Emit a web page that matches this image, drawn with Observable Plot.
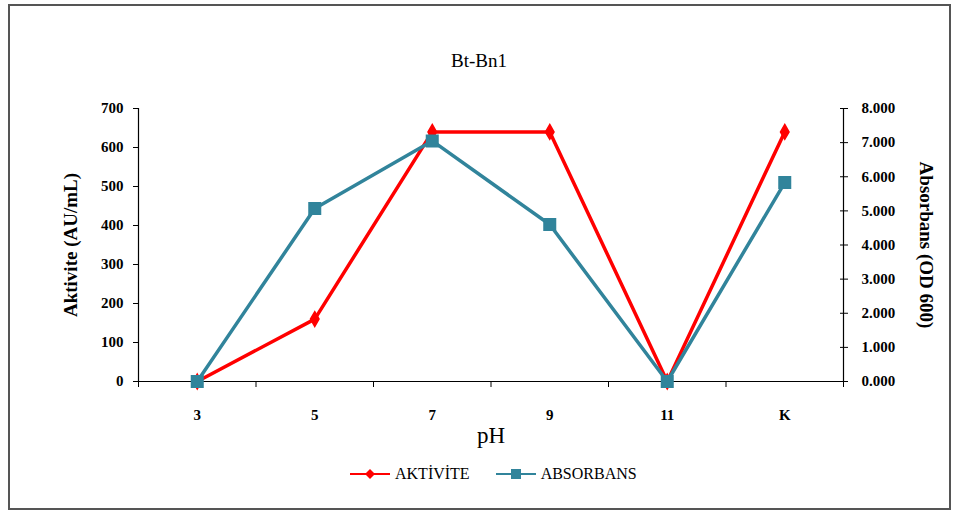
<!DOCTYPE html>
<html><head><meta charset="utf-8">
<script src="https://cdn.jsdelivr.net/npm/d3@7"></script>
<script src="https://cdn.jsdelivr.net/npm/@observablehq/plot@0.6"></script>
<style>
body{margin:0;background:#fff;}
#wrap{position:relative;width:958px;height:511px;color:#000;}
#wrap, #wrap *, #wrap svg text{font-family:'Liberation Serif' !important;}
#frame{position:absolute;left:8px;top:4px;width:943px;height:506px;border:2px solid #555;box-sizing:border-box;pointer-events:none;}
#title{position:absolute;left:0;width:958px;top:50px;text-align:center;font-size:19px;}
#legend{position:absolute;top:465px;left:350px;font-size:16px;display:flex;align-items:center;}
#legend .item{display:flex;align-items:center;margin-right:26px;}
#legend svg{margin-right:5px;}
#chart{position:absolute;left:0;top:0;}
</style></head>
<body>
<div id="wrap">
  <div id="chart"></div>
  <div id="title">Bt-Bn1</div>
  <div id="legend"></div>
  <div id="frame"></div>
</div>
<script>
const categories = ["3", "5", "7", "9", "11", "K"];
const aktivite = [0, 160, 640, 640, 0, 640];
const absorbans = [0, 5.07, 7.05, 4.6, 0, 5.83];
const leftTicks = [0, 100, 200, 300, 400, 500, 600, 700];
const rightTicks = [0, 1, 2, 3, 4, 5, 6, 7, 8];
const seriesNames = ["AKTİVİTE", "ABSORBANS"];
const colors = ["#ff0000", "#31849b"];

const FONT = "Liberation Serif";
const k = 700 / 8; // right axis -> left axis
const idx = categories.map((_, i) => i);
const bounds = d3.range(categories.length + 1).map(i => i - 0.5);

const plot = Plot.plot({
  width: 958,
  height: 511,
  marginLeft: 138,
  marginRight: 115,
  marginTop: 108,
  marginBottom: 130,
  style: {fontFamily: FONT, fontSize: "14px", color: "#000", background: "transparent"},
  x: {type: "linear", domain: [-0.5, categories.length - 0.5], axis: null},
  y: {domain: [0, 700], axis: null},
  marks: [
    Plot.ruleY([0], {stroke: "#000", strokeWidth: 1.2}),
    Plot.ruleX([-0.5], {stroke: "#000", strokeWidth: 1.2}),
    Plot.ruleX([categories.length - 0.5], {stroke: "#000", strokeWidth: 1.2}),
    Plot.axisY({ticks: leftTicks, tickSize: 5, tickPadding: 10, fontFamily: FONT, fontWeight: "bold", fontSize: 15, label: null, tickFormat: d => String(d)}),
    Plot.axisY({anchor: "right", ticks: rightTicks.map(v => v * k), tickSize: 4, tickPadding: 14, fontFamily: FONT, fontWeight: "bold", fontSize: 15, label: null, tickFormat: d => (d / k).toFixed(3)}),
    Plot.axisY({anchor: "right", ticks: rightTicks.map(v => v * k), tickSize: -4, tickFormat: () => "", label: null}),
    Plot.axisX({ticks: bounds, tickSize: 6, tickFormat: () => "", label: null}),
    Plot.axisX({ticks: idx, tickSize: 0, tickPadding: 28, fontFamily: FONT, fontWeight: "bold", fontSize: 15, label: null, tickFormat: i => categories[i]}),
    Plot.line(idx, {x: i => i, y: i => aktivite[i], stroke: colors[0], strokeWidth: 3.5}),
    Plot.line(idx, {x: i => i, y: i => absorbans[i] * k, stroke: colors[1], strokeWidth: 3.5}),
    Plot.dot(idx, {x: i => i, y: i => aktivite[i], symbol: "diamond", r: 4.5, fill: colors[0], stroke: colors[0]}),
    Plot.dot(idx, {x: i => i, y: i => absorbans[i] * k, symbol: "square", r: 6.5, fill: colors[1], stroke: colors[1]}),
    Plot.text(["pH"], {frameAnchor: "bottom", dy: 61, fontSize: 23, fontFamily: FONT}),
    Plot.text(["Aktivite (AU/mL)"], {frameAnchor: "left", dx: -68, rotate: -90, textAnchor: "middle", fontSize: 19, fontWeight: "bold", fontFamily: FONT}),
    Plot.text(["Absorbans (OD 600)"], {frameAnchor: "right", dx: 83, rotate: 90, textAnchor: "middle", fontSize: 19, fontWeight: "bold", fontFamily: FONT})
  ]
});
document.getElementById("chart").appendChild(plot);

const leg = document.getElementById("legend");
seriesNames.forEach((name, i) => {
  const item = document.createElement("div");
  item.className = "item";
  const marker = i === 0
    ? `<polygon points="20,2 25,7 20,12 15,7" fill="${colors[0]}"/>`
    : `<rect x="15" y="2" width="10" height="10" fill="${colors[1]}"/>`;
  item.innerHTML = `<svg width="40" height="14"><line x1="0" x2="40" y1="7" y2="7" stroke="${colors[i]}" stroke-width="2"/>${marker}</svg><span>${name}</span>`;
  leg.appendChild(item);
});
</script>
</body></html>
